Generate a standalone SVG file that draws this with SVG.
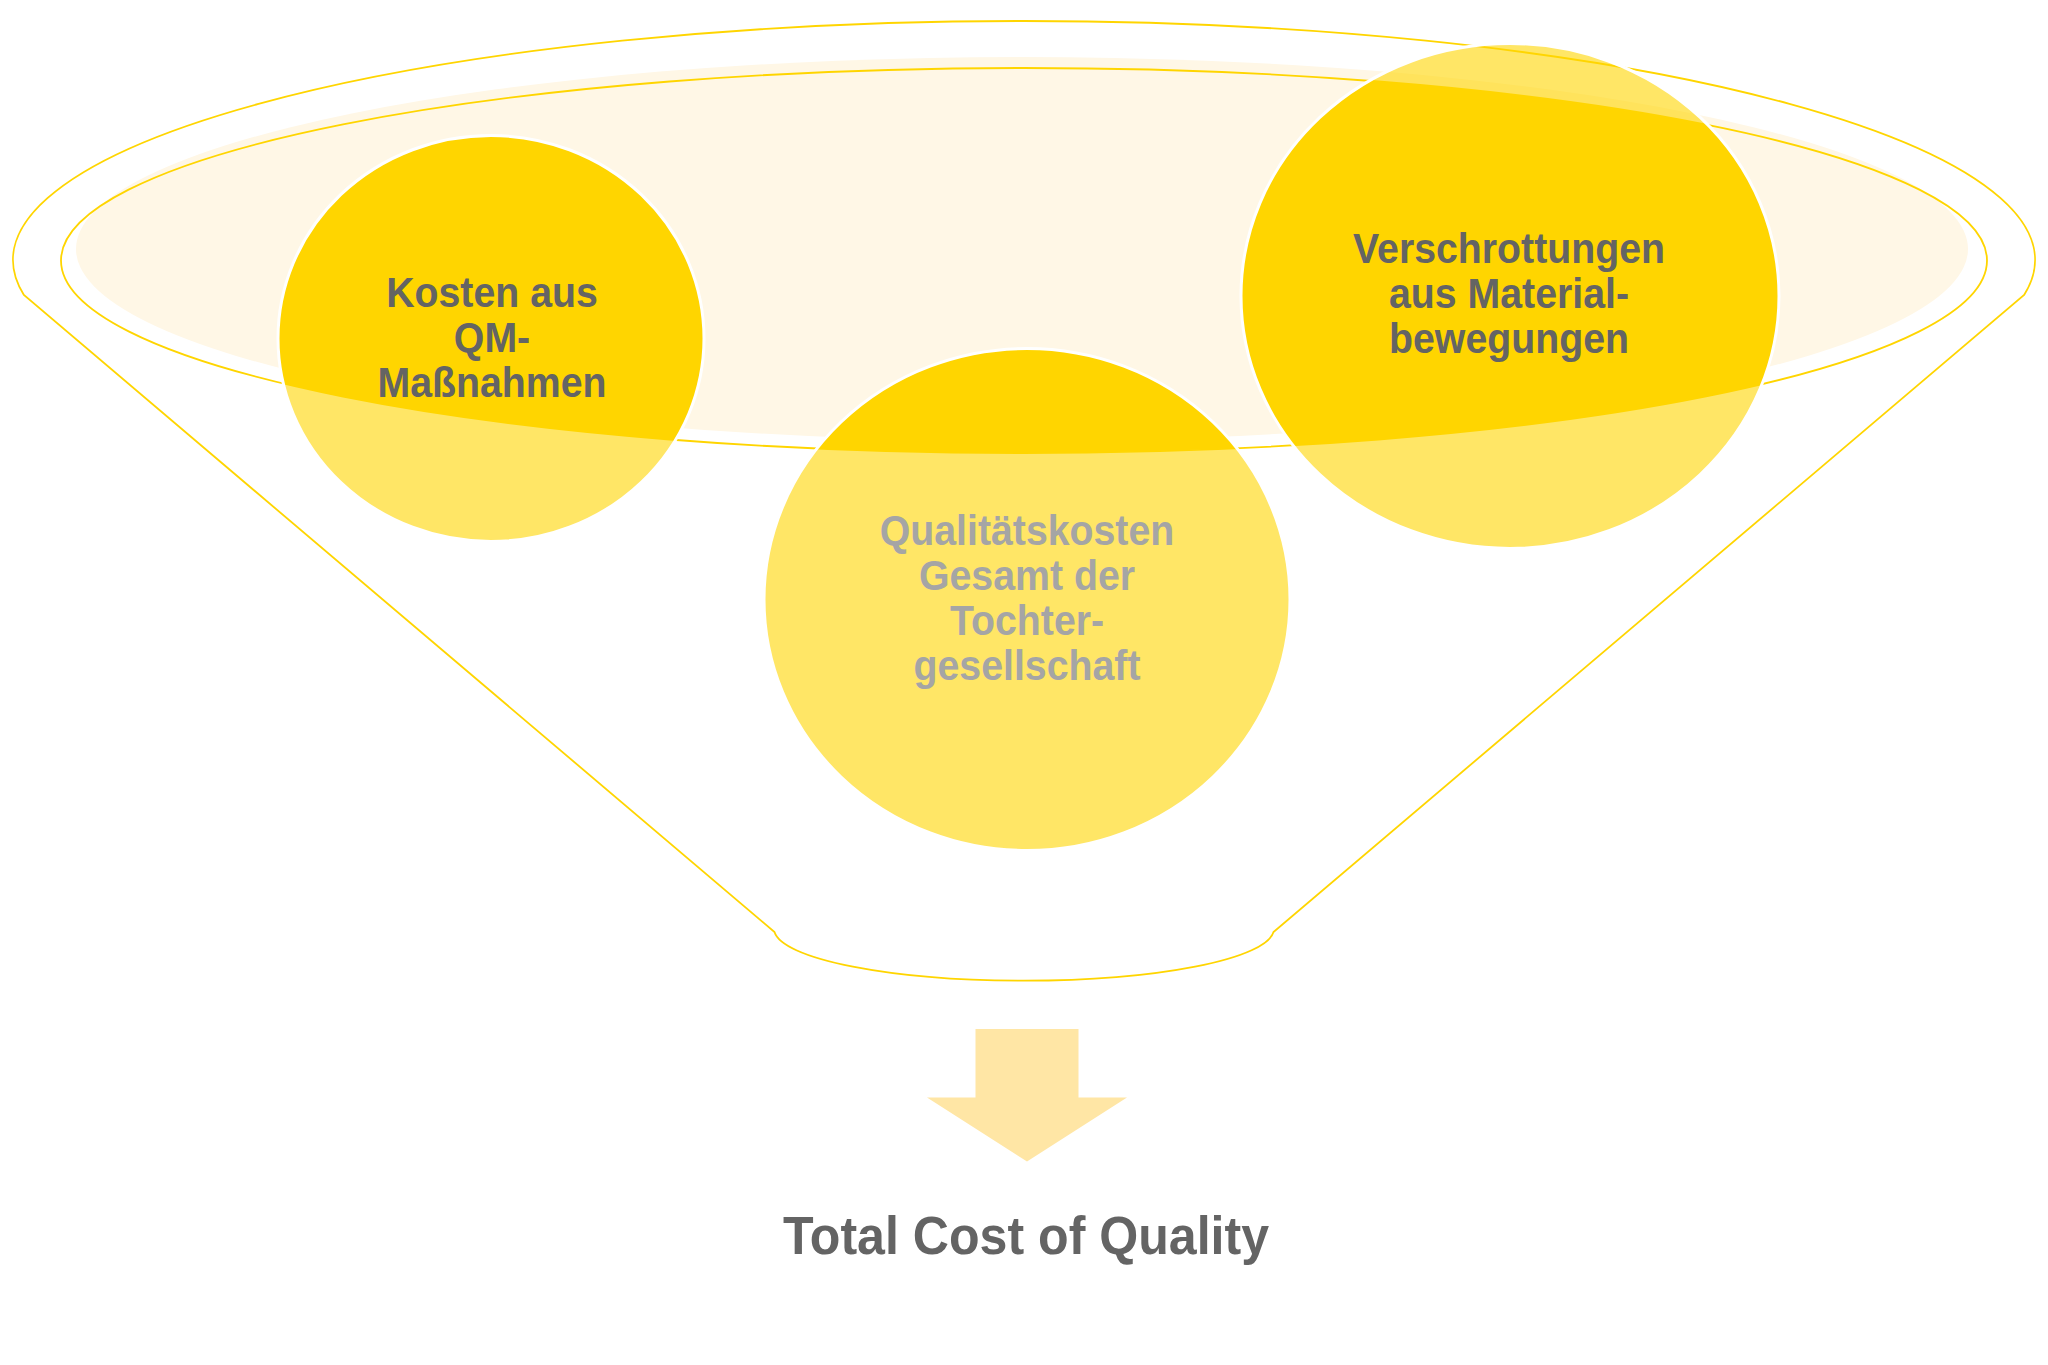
<svg xmlns="http://www.w3.org/2000/svg" width="2048" height="1365" viewBox="0 0 2048 1365">
<style>
.t{font-family:"Liberation Sans",Arial,sans-serif;font-weight:bold;font-size:42px;text-anchor:middle}
.dk{fill:#646464}
.lt{fill:#A5A5A5}
.ttl{font-family:"Liberation Sans",Arial,sans-serif;font-weight:bold;font-size:54px;text-anchor:middle;fill:#646464}
.ln{fill:none;stroke:#FFD500;stroke-width:1.8}
.sat{fill:#FFD500}
.circ{fill:#FFD500;fill-opacity:0.6;stroke:#FFFFFF;stroke-width:3}
</style>
<defs>
<clipPath id="inner"><ellipse cx="1024" cy="260.5" rx="963" ry="192.5"/></clipPath>
</defs>
<rect width="2048" height="1365" fill="#FFFFFF"/>
<g id="funnel">
<ellipse cx="1022" cy="249" rx="946" ry="192" fill="#FFF7E6"/>
<path class="ln" d="M 23.9 295 A 1011 239 0 1 1 2024.1 295 L 1273.5 932 A 250 52 0 0 1 774.5 932 Z"/>
<ellipse class="ln" cx="1024" cy="260.5" rx="963" ry="192.5"/>
</g>
<g id="node-qm">
<ellipse class="sat" clip-path="url(#inner)" cx="491" cy="338.5" rx="213" ry="203"/>
<ellipse class="circ" cx="491" cy="338.5" rx="213" ry="203"/>
<text class="t dk" transform="translate(492 0) scale(0.935 1)"><tspan x="0" y="307">Kosten aus</tspan><tspan x="0" y="352">QM-</tspan><tspan x="0" y="397">Maßnahmen</tspan></text>
</g>
<g id="node-gesamt">
<ellipse class="sat" clip-path="url(#inner)" cx="1027" cy="599.5" rx="263" ry="251"/>
<ellipse class="circ" cx="1027" cy="599.5" rx="263" ry="251"/>
<text class="t lt" transform="translate(1027 0) scale(0.935 1)"><tspan x="0" y="545">Qualitätskosten</tspan><tspan x="0" y="590">Gesamt der</tspan><tspan x="0" y="635">Tochter-</tspan><tspan x="0" y="680">gesellschaft</tspan></text>
</g>
<g id="node-verschrottung">
<ellipse class="sat" clip-path="url(#inner)" cx="1510" cy="296" rx="269" ry="252.5"/>
<ellipse class="circ" cx="1510" cy="296" rx="269" ry="252.5"/>
<text class="t dk" transform="translate(1509 0) scale(0.935 1)"><tspan x="0" y="263">Verschrottungen</tspan><tspan x="0" y="308">aus Material-</tspan><tspan x="0" y="353">bewegungen</tspan></text>
</g>
<g id="connectors">
<polygon points="975.5,1029 1078.5,1029 1078.5,1097.5 1127,1097.5 1027,1161.5 927,1097.5 975.5,1097.5" fill="#FFE6A5"/>
</g>
<g id="node-total">
<text class="ttl" transform="translate(1026 0) scale(0.928 1)" x="0" y="1254">Total Cost of Quality</text>
</g>
</svg>
